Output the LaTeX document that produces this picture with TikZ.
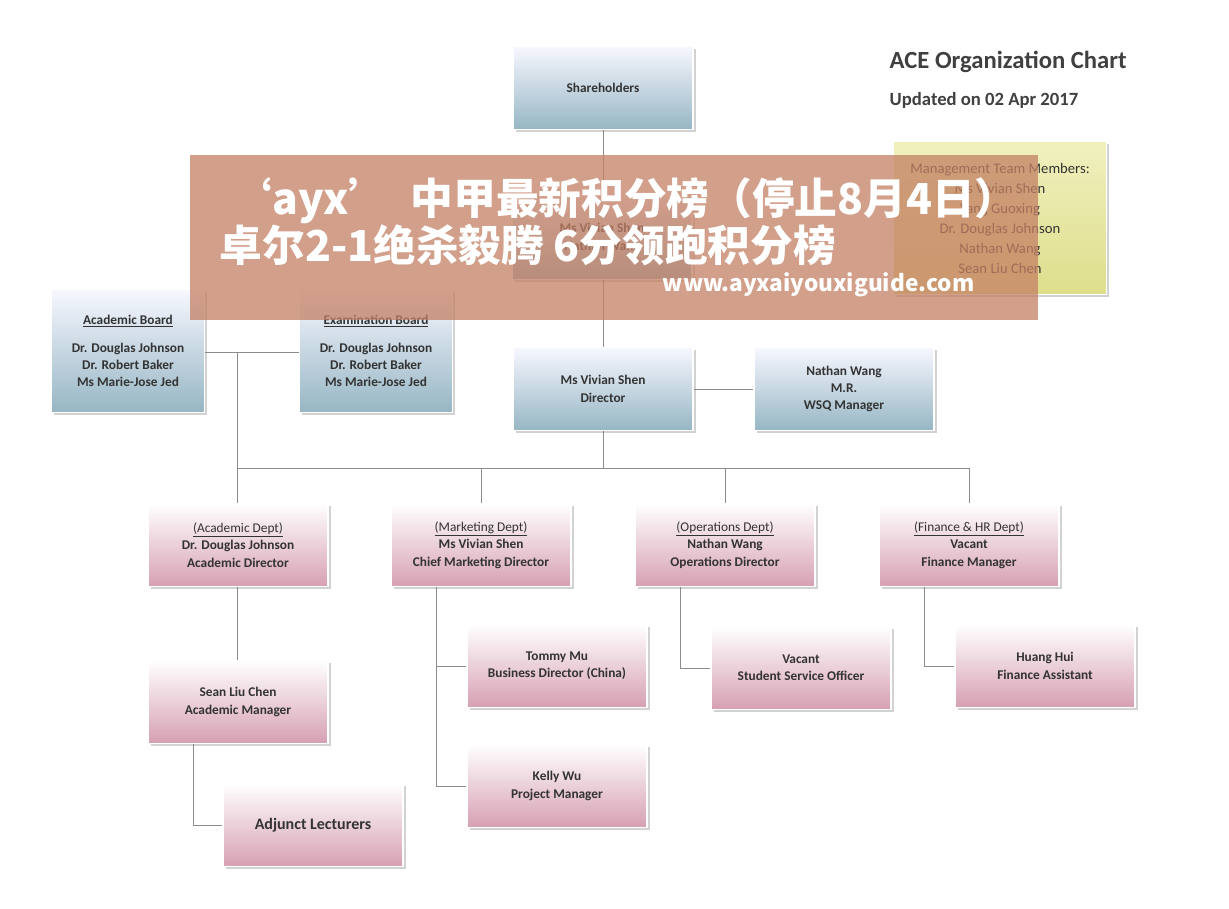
\documentclass[tikz,border=0pt]{standalone}
\usepackage{fontspec}
\setmainfont{Carlito}
\newfontfamily\cjk{Noto Sans CJK SC}
\usetikzlibrary{shadows}
\begin{document}
\begin{tikzpicture}[x=0.75pt,y=-0.75pt,
  bx/.style={draw=white,line width=1pt,minimum width=135pt,minimum height=62pt,align=center,font=\bfseries\fontsize{10}{13}\selectfont,text=black!80,drop shadow={shadow xshift=2pt,shadow yshift=-2pt,opacity=.35}},
  blue/.style={bx,top color=blue!3!white,bottom color={rgb,255:red,150;green,182;blue,196}},
  pink/.style={bx,top color=white,bottom color={rgb,255:red,214;green,160;blue,178}},
  ln/.style={draw=black!45,line width=0.6pt}]
\useasboundingbox (0,0) rectangle (1229,908);
\fill[white] (0,0) rectangle (1229,908);
\coordinate (j1) at (237,352);
\coordinate (bus) at (603,468);
\draw[ln] (603,88) -- (bus);
\draw[ln] (128,352) -- (376,352);
\draw[ln] (603,389) -- (844,389);
\draw[ln] (j1) -- (237,468) -- (969,468);
\draw[ln] (481,468) -- (481,545); \draw[ln] (725,468) -- (725,545); \draw[ln] (969,468) -- (969,545); \draw[ln] (237,468)--(237,702);
\draw[ln] (193,702) |- (313,825);
\draw[ln] (436,545) |- (557,786); \draw[ln] (436,666) -- (557,666);
\draw[ln] (680,545) |- (801,668);
\draw[ln] (924,545) |- (1045,666);
\node[blue] (sh) at (603,88) {Shareholders};
\node[blue] (hid) at (602,238) {Ms Vivian Shen\\Nathan Wang};
\node[blue,minimum width=115pt,minimum height=92pt] (ab) at (128,351) {\underline{Academic Board}\\[8pt]Dr. Douglas Johnson\\Dr. Robert Baker\\Ms Marie-Jose Jed};
\node[blue,minimum width=115pt,minimum height=92pt] (eb) at (376,351) {\underline{Examination Board}\\[8pt]Dr. Douglas Johnson\\Dr. Robert Baker\\Ms Marie-Jose Jed};
\node[blue] (dir) at (603,389) {Ms Vivian Shen\\Director};
\node[blue] (wsq) at (844,389) {Nathan Wang\\M.R.\\WSQ Manager};
\node[bx,top color={rgb,255:red,240;green,240;blue,190},bottom color={rgb,255:red,222;green,222;blue,140},minimum width=160pt,minimum height=115pt,font=\fontsize{11}{15}\selectfont] (mt) at (1000,218) {Management Team Members:\\Ms Vivian Shen\\Yang Guoxing\\Dr. Douglas Johnson\\Nathan Wang\\Sean Liu Chen};
\node[pink] (ad) at (238,545) {\mdseries\underline{(Academic Dept)}\\Dr. Douglas Johnson\\Academic Director};
\node[pink] (md) at (481,545) {\mdseries\underline{(Marketing Dept)}\\Ms Vivian Shen\\Chief Marketing Director};
\node[pink] (od) at (725,545) {\mdseries\underline{(Operations Dept)}\\Nathan Wang\\Operations Director};
\node[pink] (fd) at (969,545) {\mdseries\underline{(Finance \& HR Dept)}\\Vacant\\Finance Manager};
\node[pink] (slc) at (238,702) {Sean Liu Chen\\Academic Manager};
\node[pink,font=\bfseries\fontsize{12}{14}\selectfont] (adj) at (313,825) {Adjunct Lecturers};
\node[pink] (tm) at (557,666) {Tommy Mu\\Business Director (China)};
\node[pink] (kw) at (557,786) {Kelly Wu\\Project Manager};
\node[pink] (sso) at (801,668) {Vacant\\Student Service Officer};
\node[pink] (hh) at (1045,666) {Huang Hui\\Finance Assistant};
\node[anchor=west,text=black!75,font=\bfseries\fontsize{18.5}{20}\selectfont] (t1) at (885,62) {ACE Organization Chart};
\node[anchor=west,text=black!75,font=\bfseries\fontsize{14}{16}\selectfont] (t2) at (885,100) {Updated on 02 Apr 2017};
\fill[fill={rgb,255:red,196;green,128;blue,100},opacity=.75] (190,155) rectangle (1038,320);
\node[anchor=west,text=white,font=\cjk\bfseries\fontsize{32}{34}\selectfont] (b1) at (225,201) {‘ayx’\ \ 中甲最新积分榜（停止8月4日）};
\node[anchor=west,text=white,font=\cjk\bfseries\fontsize{32}{34}\selectfont] (b2) at (215,245) {卓尔2-1绝杀毅腾\ 6分领跑积分榜};
\node[anchor=west,text=white,font=\cjk\bfseries\fontsize{17}{19}\selectfont] (b3) at (658,285) {www.ayxaiyouxiguide.com};
\end{tikzpicture}
\end{document}
